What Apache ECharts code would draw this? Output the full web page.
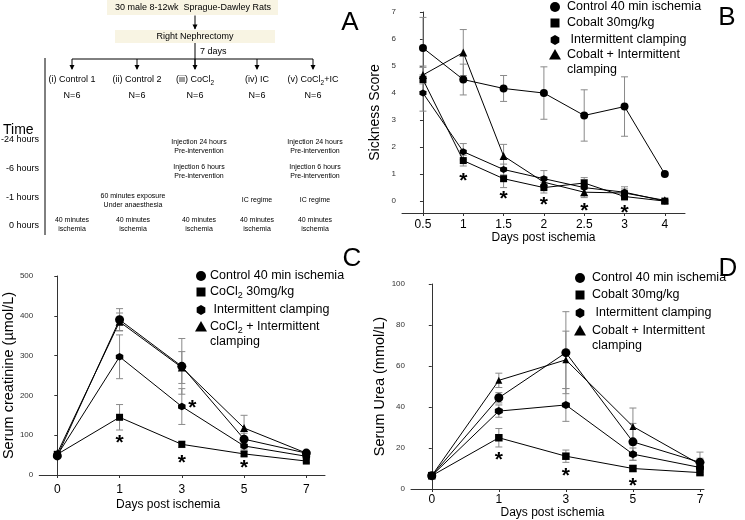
<!DOCTYPE html>
<html><head><meta charset="utf-8">
<script src="https://cdn.jsdelivr.net/npm/echarts@6/dist/echarts.min.js"></script>
<style>html,body{margin:0;padding:0;background:#fff}#c{width:745px;height:520px}</style>
</head><body><div id="c"></div>
<script>
const FONT = '"Liberation Sans", Arial, sans-serif';

// ---------- Panel A (study design) ----------
const groupLabels = ['(i) Control 1', '(ii) Control 2', '(iii) CoCl{s|2}', '(iv) IC', '(v) CoCl{s|2}+IC'];
const groupN = ['N=6', 'N=6', 'N=6', 'N=6', 'N=6'];
const timeLabels = ['-24 hours', '-6 hours', '-1 hours', '0 hours'];
const cellTexts = [
  ['', '', 'Injection 24 hours\nPre-intervention', '', 'Injection 24 hours\nPre-intervention'],
  ['', '', 'Injection 6 hours\nPre-intervention', '', 'Injection 6 hours\nPre-intervention'],
  ['', '60 minutes exposure\nUnder anaesthesia', '', 'IC regime', 'IC regime'],
  ['40 minutes\nischemia', '40 minutes\nischemia', '40 minutes\nischemia', '40 minutes\nischemia', '40 minutes\nischemia']
];

// ---------- Panel B (sickness score) ----------
const daysB = ['0.5', '1', '1.5', '2', '2.5', '3', '4'];
const sickControl = [5.67, 4.5, 4.17, 4.0, 3.17, 3.5, 1.0];
const sickControlErr = [1.13, 0.57, 0.48, 0.97, 0.95, 1.1, 0];
const sickCobalt = [4.5, 1.5, 0.83, 0.5, 0.67, 0.17, 0];
const sickCobaltErr = [0.45, 0.2, 0.33, 0.2, 0.2, 0.15, 0];
const sickIC = [4.0, 1.83, 1.17, 0.83, 0.5, 0.33, 0];
const sickICErr = [0.67, 0.3, 0.2, 0.3, 0.3, 0.2, 0];
const sickCoIC = [4.67, 5.5, 1.67, 0.7, 0.33, 0.3, 0.03];
const sickCoICErr = [0.33, 0.85, 0.43, 0.2, 0.2, 0.15, 0];
const starsB = [[1, 0.93], [2, 0.24], [3, 0.04], [4, -0.2], [5, -0.27]];
const yTicksB = [0, 1, 2, 3, 4, 5, 6, 7];

// ---------- Panel C (serum creatinine) ----------
const daysCD = ['0', '1', '3', '5', '7'];
const creatControl = [48, 390, 273, 90, 55];
const creatControlErr = [4, 28, 70, 15, 5];
const creatCoCl2 = [52, 145, 77, 53, 35];
const creatCoCl2Err = [4, 32, 8, 6, 4];
const creatIC = [50, 297, 172, 73, 47];
const creatICErr = [4, 55, 45, 8, 4];
const creatCoIC = [55, 385, 270, 118, 55];
const creatCoICErr = [4, 22, 40, 32, 5];
const starsC = [[1, 93], [2.17, 180], [2, 43], [3, 30]];
const yTicksC = [0, 100, 200, 300, 400, 500];

// ---------- Panel D (serum urea) ----------
const ureaControl = [6.5, 44.5, 66.5, 23, 13];
const ureaControlErr = [0.8, 2.5, 20, 9, 5];
const ureaCobalt = [6.5, 25, 16, 10, 8];
const ureaCobaltErr = [0.8, 4.5, 3, 1.5, 1];
const ureaIC = [6.5, 38, 41, 17, 10.5];
const ureaICErr = [0.8, 3, 8, 3, 2];
const ureaCoIC = [6.5, 53, 63, 30.5, 12];
const ureaCoICErr = [0.8, 3.5, 14, 9, 3];
const starsD = [[1, 16.6], [2, 8.5], [3, 4]];
const yTicksD = [0, 20, 40, 60, 80, 100];

const legendB = ['Control 40 min ischemia', 'Cobalt 30mg/kg', ' Intermittent clamping', 'Cobalt + Intermittent', 'clamping'];
const legendC = ['Control 40 min ischemia', 'CoCl{s|2} 30mg/kg', ' Intermittent clamping', 'CoCl{s|2} + Intermittent', 'clamping'];
const legendD = ['Control 40 min ischemia', 'Cobalt 30mg/kg', ' Intermittent clamping', 'Cobalt + Intermittent', 'clamping'];

// ---------- helpers ----------
const HEX = 'path://M0,-10L8.66,-5L8.66,5L0,10L-8.66,5L-8.66,-5Z';
const TRI = 'path://M0,-10L10,7.3L-10,7.3Z';

function lineSeries(name, gi, vals, symbol, size) {
  return {
    type: 'line', name, xAxisIndex: gi, yAxisIndex: gi,
    data: vals.map((v, i) => [i, v]),
    symbol, symbolSize: size, showSymbol: true,
    lineStyle: { color: '#000', width: 1 },
    itemStyle: { color: '#000', borderWidth: 0, opacity: 1 },
    z: 3, silent: true
  };
}
function errSeries(gi, vals, errs) {
  return {
    type: 'custom', xAxisIndex: gi, yAxisIndex: gi,
    data: vals.map((v, i) => [i, v, errs[i]]),
    encode: { x: 0, y: 1 }, z: 2, silent: true,
    renderItem(params, api) {
      const x = api.value(0), y = api.value(1), e = api.value(2);
      if (!e) return null;
      const t = api.coord([x, y + e]), b = api.coord([x, y - e]);
      const w = 3.5, st = { stroke: '#8a8a8a', lineWidth: 1 };
      return { type: 'group', children: [
        { type: 'line', shape: { x1: t[0], y1: t[1], x2: b[0], y2: b[1] }, style: st },
        { type: 'line', shape: { x1: t[0] - w, y1: t[1], x2: t[0] + w, y2: t[1] }, style: st },
        { type: 'line', shape: { x1: b[0] - w, y1: b[1], x2: b[0] + w, y2: b[1] }, style: st }
      ]};
    }
  };
}
function starSeries(gi, pts) {
  return {
    type: 'scatter', xAxisIndex: gi, yAxisIndex: gi, data: pts,
    symbol: 'circle', symbolSize: 1,
    itemStyle: { color: 'rgba(255,255,255,0)', opacity: 1 },
    label: { show: true, position: 'inside', formatter: '*', fontSize: 21, fontWeight: 'bold', fontFamily: FONT,
             color: '#000', opacity: 1, textBorderWidth: 0, offset: [0, 5] },
    z: 4, silent: true
  };
}
function xAx(gi, min, max, cats, margin, nameGap, namePad) {
  const idx = cats.map((c, i) => i);
  return {
    gridIndex: gi, type: 'value', min, max,
    name: 'Days post ischemia', nameLocation: 'middle', nameGap,
    nameTextStyle: { fontSize: 12, fontFamily: FONT, color: '#000', padding: namePad || 0 },
    axisLine: { show: true, onZero: false, lineStyle: { color: '#333', width: 1 } },
    axisTick: { show: true, customValues: idx, length: 3, lineStyle: { color: '#333' } },
    axisLabel: { customValues: idx, formatter: v => cats[Math.round(v)], fontSize: 12, fontFamily: FONT, color: '#000', margin },
    splitLine: { show: false }
  };
}
function yAx(gi, min, max, ticks, name, nameSize, nameGap) {
  return {
    gridIndex: gi, type: 'value', min, max,
    name, nameLocation: 'middle', nameGap,
    nameTextStyle: { fontSize: nameSize, fontFamily: FONT, color: '#000' },
    axisLine: { show: true, lineStyle: { color: '#333', width: 1 } },
    axisTick: { show: true, customValues: ticks, length: 3, lineStyle: { color: '#333' } },
    axisLabel: { customValues: ticks, fontSize: 8, fontFamily: FONT, color: '#333', margin: 6 },
    splitLine: { show: false }
  };
}

// ---------- graphics (panel A, legends, panel letters) ----------
const G = [];
function T(x, y, text, size, align, extra) {
  G.push({ type: 'text', x, y, silent: true,
    style: Object.assign({ text, fontSize: size, fontFamily: FONT, fill: '#000', align: align || 'center', verticalAlign: 'middle' }, extra || {}) });
}
function L(x1, y1, x2, y2, w) {
  G.push({ type: 'line', silent: true, shape: { x1, y1, x2, y2 }, style: { stroke: '#000', lineWidth: w || 1 } });
}
function arrowHead(x, y) {
  G.push({ type: 'polygon', silent: true, shape: { points: [[x - 2.5, y - 5], [x + 2.5, y - 5], [x, y]] }, style: { fill: '#000' } });
}
function subRich(size) {
  return { rich: { s: { fontSize: size * 0.72, fontFamily: FONT, verticalAlign: 'bottom', lineHeight: size * 0.66 } }, lineHeight: size * 1.3 };
}

// boxes
G.push({ type: 'rect', silent: true, shape: { x: 107, y: 0, width: 171, height: 15 }, style: { fill: '#f8f4e3' } });
G.push({ type: 'rect', silent: true, shape: { x: 115, y: 30, width: 160, height: 13 }, style: { fill: '#f8f4e3' } });
T(193, 8, '30 male 8-12wk  Sprague-Dawley Rats', 9);
T(195, 37, 'Right Nephrectomy', 9);
L(195, 15.5, 195, 29); arrowHead(195, 29.5);
L(195, 43, 195, 69);
T(200, 52, '7 days', 9, 'left');
const colX = [72, 137, 195, 257, 313];
L(72, 59, 313, 59);
colX.forEach((x, i) => {
  L(x, 59, x, 69); arrowHead(x, 70);
  T(x, 80, groupLabels[i], 9, 'center', subRich(9));
  T(x, 96, groupN[i], 9);
});
L(45, 58, 45, 235);
T(3, 130, 'Time', 14, 'left');
const rowY = [147, 171.5, 200.5, 225];
const cellX = [72, 133, 199, 257, 315];
timeLabels.forEach((t, r) => {
  T(39, [140, 169, 198, 226][r], t, 9, 'right');
  cellTexts[r].forEach((c, k) => { if (c) T(cellX[k], rowY[r], c, 7, 'center', { lineHeight: 9 }); });
});

// legends
function legend(mx, tx, ys, texts, sizes) {
  const [c, sq, hx, tr] = sizes;
  G.push({ type: 'circle', silent: true, shape: { cx: mx, cy: ys[0], r: c }, style: { fill: '#000' } });
  G.push({ type: 'rect', silent: true, shape: { x: mx - sq, y: ys[1] - sq, width: sq * 2, height: sq * 2 }, style: { fill: '#000' } });
  const hp = []; for (let k = 0; k < 6; k++) { const a = Math.PI / 3 * k - Math.PI / 2; hp.push([mx + hx * Math.cos(a), ys[2] + hx * Math.sin(a)]); }
  G.push({ type: 'polygon', silent: true, shape: { points: hp }, style: { fill: '#000' } });
  G.push({ type: 'polygon', silent: true, shape: { points: [[mx, ys[3] - tr], [mx + tr, ys[3] + tr * 0.75], [mx - tr, ys[3] + tr * 0.75]] }, style: { fill: '#000' } });
  texts.forEach((t, i) => T(tx, ys[i], t, 12.5, 'left', subRich(12.5)));
}
legend(555, 567, [7, 23, 40, 55, 70], legendB, [5, 4.5, 5, 6]);
legend(201, 210, [276, 292, 310, 327, 342], legendC, [5, 4.5, 5, 6]);
legend(580, 592, [278, 295, 313, 331, 346], legendD, [5, 4.5, 5, 6]);

// panel letters
T(350, 23, 'A', 26); T(727, 18, 'B', 26); T(352, 259, 'C', 26); T(728, 269, 'D', 26);

// ---------- chart ----------
const chart = echarts.init(document.getElementById('c'));
chart.setOption({
  animation: false,
  backgroundColor: '#fff',
  textStyle: { fontFamily: FONT },
  grid: [
    { left: 402, top: 12, width: 283, height: 201 },
    { left: 39, top: 276, width: 286, height: 199 },
    { left: 411, top: 284, width: 293, height: 205 }
  ],
  xAxis: [
    xAx(0, -0.52, 6.5, daysB, 6, 19),
    xAx(1, -0.29, 4.3, daysCD, 9, 24, [0, 28, 0, 0]),
    xAx(2, -0.31, 4.06, daysCD, 5, 17, [0, 10, 0, 0])
  ],
  yAxis: [
    yAx(0, -0.44, 7, yTicksB, 'Sickness Score', 14, 20),
    yAx(1, 0, 500, yTicksC, 'Serum creatinine (µmol/L)', 14.5, 20),
    yAx(2, 0, 100, yTicksD, 'Serum Urea (mmol/L)', 14.5, 17)
  ],
  graphic: G,
  series: [
    errSeries(0, sickControl, sickControlErr), errSeries(0, sickCobalt, sickCobaltErr),
    errSeries(0, sickIC, sickICErr), errSeries(0, sickCoIC, sickCoICErr),
    lineSeries('Control 40 min ischemia', 0, sickControl, 'circle', 8),
    lineSeries('Cobalt 30mg/kg', 0, sickCobalt, 'rect', 7),
    lineSeries('Intermittent clamping', 0, sickIC, HEX, 7),
    lineSeries('Cobalt + Intermittent clamping', 0, sickCoIC, TRI, 8),
    starSeries(0, starsB),

    errSeries(1, creatControl, creatControlErr), errSeries(1, creatCoCl2, creatCoCl2Err),
    errSeries(1, creatIC, creatICErr), errSeries(1, creatCoIC, creatCoICErr),
    lineSeries('C Control', 1, creatControl, 'circle', 9),
    lineSeries('C CoCl2', 1, creatCoCl2, 'rect', 7),
    lineSeries('C IC', 1, creatIC, HEX, 7.5),
    lineSeries('C CoCl2+IC', 1, creatCoIC, TRI, 8),
    starSeries(1, starsC),

    errSeries(2, ureaControl, ureaControlErr), errSeries(2, ureaCobalt, ureaCobaltErr),
    errSeries(2, ureaIC, ureaICErr), errSeries(2, ureaCoIC, ureaCoICErr),
    lineSeries('D Control', 2, ureaControl, 'circle', 9),
    lineSeries('D Cobalt', 2, ureaCobalt, 'rect', 7.5),
    lineSeries('D IC', 2, ureaIC, HEX, 8),
    lineSeries('D Cobalt+IC', 2, ureaCoIC, TRI, 7),
    starSeries(2, starsD)
  ]
});
</script></body></html>
